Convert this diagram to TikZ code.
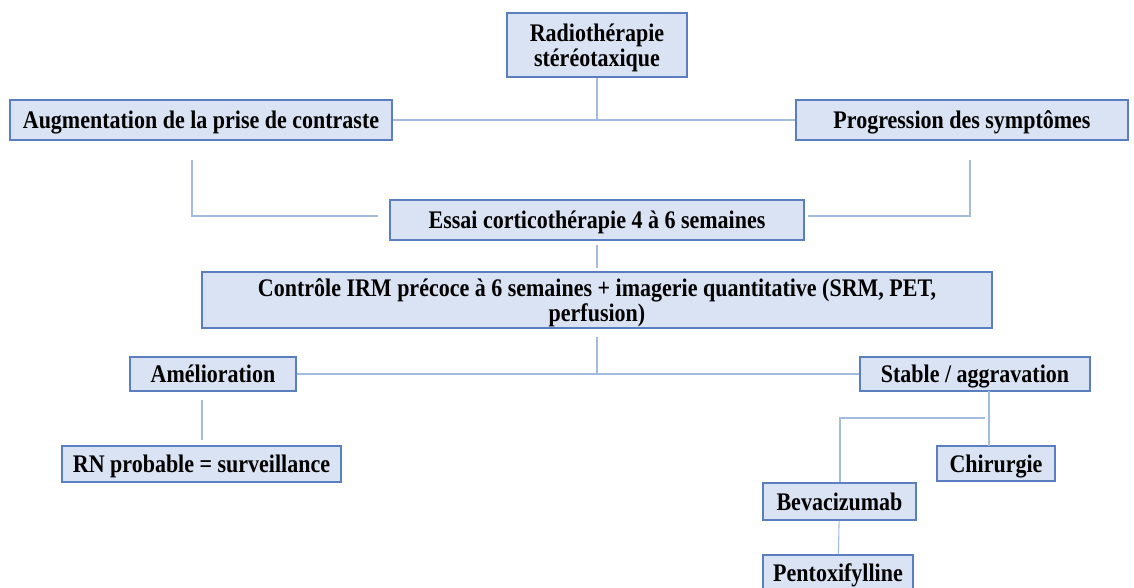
\documentclass[tikz,border=0pt]{standalone}
\usepackage{fontspec}
\setmainfont{Liberation Serif}
\definecolor{boxfill}{HTML}{DAE3F3}
\definecolor{boxdraw}{HTML}{5A7EC0}
\definecolor{linkc}{HTML}{A4BBE0}
\tikzset{
  sz/.style 2 args={minimum width=#1*0.75pt, minimum height=#2*0.75pt/1.15},
  box/.style={draw=boxdraw, line width=1.1pt, fill=boxfill, align=center, inner sep=0pt,
    yscale=1.15, transform shape, text depth=0pt,
    font=\fontsize{16.5}{16.5}\selectfont\bfseries, text=black},
  link/.style={draw=linkc, line width=0.8pt}
}
\begin{document}
\begin{tikzpicture}[x=0.75pt,y=-0.75pt]
\useasboundingbox (0,0) rectangle (1134,588);
% nodes
\node[box, sz={180}{64}] (radio) at (597,45) {Radiothérapie\\stéréotaxique};
\node[box, sz={382}{40}] (aug) at (201,120) {Augmentation de la prise de contraste};
\node[box, sz={332}{40}] (prog) at (962,120) {Progression des symptômes};
\node[box, sz={414}{40}] (essai) at (597,220) {Essai corticothérapie 4 à 6 semaines};
\node[box, sz={790}{56}] (ctrl) at (597,300) {Contrôle IRM précoce à 6 semaines + imagerie quantitative (SRM, PET,\\perfusion)};
\node[box, sz={166}{34}] (amel) at (213,374) {Amélioration};
\node[box, sz={230}{34}] (stable) at (975,374) {Stable / aggravation};
\node[box, sz={279}{36}] (rn) at (201.5,464) {RN probable = surveillance};
\node[box, sz={118}{35}] (chir) at (996,463.5) {Chirurgie};
\node[box, sz={153}{37}] (beva) at (839.5,501.5) {Bevacizumab};
\node[box, sz={150}{36}] (pent) at (838,573) {Pentoxifylline};
% coordinates
\coordinate (j1) at (597,120);
\coordinate (a1) at (192,160);
\coordinate (a2) at (192,216);
\coordinate (a3) at (378,216);
\coordinate (p1) at (970,160);
\coordinate (p2) at (970,216);
\coordinate (p3) at (808,216);
\coordinate (e1) at (597,245);
\coordinate (e2) at (597,268);
\coordinate (c1) at (597,337);
\coordinate (j2) at (597,374);
\coordinate (m1) at (202,400);
\coordinate (m2) at (202,440);
\coordinate (s1) at (989,391);
\coordinate (s2) at (989,446);
\coordinate (b1) at (985,418);
\coordinate (b2) at (840,418);
% links
\draw[link] (radio) -- (j1);
\draw[link] (aug) -- (prog);
\draw[link] (a1) -- (a2) -- (a3);
\draw[link] (p1) -- (p2) -- (p3);
\draw[link] (e1) -- (e2);
\draw[link] (c1) -- (j2);
\draw[link] (amel) -- (stable);
\draw[link] (m1) -- (m2);
\draw[link] (s1) -- (s2);
\draw[link] (b1) -- (b2) -- (beva.north -| b2);
\draw[link] (beva) -- (pent);
\end{tikzpicture}
\end{document}
